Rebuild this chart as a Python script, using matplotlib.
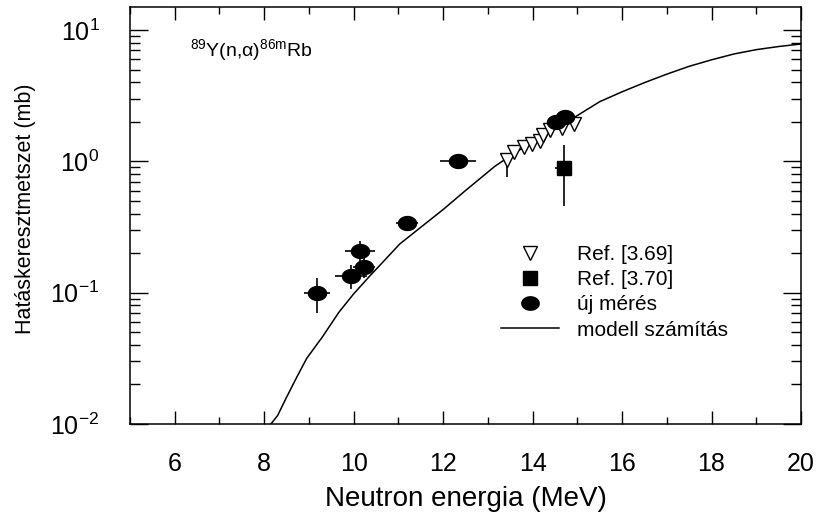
import numpy as np
import matplotlib
matplotlib.use("Agg")
import matplotlib.pyplot as plt
from matplotlib.path import Path
from matplotlib.lines import Line2D
from matplotlib.ticker import LogLocator, MultipleLocator, NullFormatter

plt.rcParams['font.family'] = ['Liberation Sans', 'DejaVu Sans']
plt.rcParams['mathtext.fontset'] = 'custom'
plt.rcParams['mathtext.rm'] = 'Liberation Sans'
plt.rcParams['mathtext.it'] = 'Liberation Sans'
plt.rcParams['mathtext.bf'] = 'Liberation Sans:bold'

# ---- data ----
# model calculation
model_E = [8.15, 8.3, 8.5, 8.75, 8.95, 9.3, 9.67, 10.0, 10.36, 10.7, 11.03, 11.5, 12.0,
           12.5, 13.16, 13.6, 14.2, 14.9, 15.5, 16.0, 16.5, 17.0, 17.5, 18.0, 18.5, 19.0,
           19.5, 20.0]
model_sigma = [0.0100, 0.0116, 0.0160, 0.0235, 0.0316, 0.046, 0.071, 0.098, 0.134, 0.178,
               0.235, 0.315, 0.43, 0.60, 0.92, 1.16, 1.55, 2.13, 2.85, 3.39, 3.98, 4.62,
               5.3, 5.94, 6.58, 7.1, 7.5, 7.84]

# Ref. [3.69]
ref69_E = [13.42, 13.58, 13.80, 13.98, 14.16, 14.23, 14.39, 14.65, 14.92]
ref69_sigma = [1.03, 1.17, 1.28, 1.35, 1.44, 1.60, 1.75, 1.81, 1.94]
ref69_err_lo = [0.27, 0.08, 0.08, 0.08, 0.09, 0.09, 0.10, 0.10, 0.10]
ref69_err_hi = [0.08, 0.08, 0.08, 0.08, 0.09, 0.09, 0.10, 0.10, 0.10]

# Ref. [3.70]
ref70_E = [14.70]
ref70_sigma = [0.885]
ref70_err_lo = [0.43]
ref70_err_hi = [0.46]
ref70_dE = [0.19]

# új mérés
new_E = [9.18, 9.94, 10.14, 10.23, 11.19, 12.33, 14.52, 14.72]
new_sigma = [0.100, 0.135, 0.208, 0.157, 0.339, 1.00, 2.00, 2.17]
new_dE = [0.29, 0.35, 0.33, 0.25, 0.25, 0.40, 0.15, 0.15]
new_dsigma = [0.03, 0.028, 0.04, 0.027, 0.02, 0.1, 0.1, 0.1]

x_ticks = [6, 8, 10, 12, 14, 16, 18, 20]

# ---- figure ----
W, H = 820, 516
fig = plt.figure(figsize=(W / 100, H / 100), dpi=100)
ax = fig.add_axes([130 / W, 1 - 424 / H, 671 / W, 417 / H])

ax.set_yscale('log')
ax.set_xlim(5, 20)
ax.set_ylim(0.01, 15)

# ellipse marker
th = np.linspace(0, 2 * np.pi, 61)
ell = Path(np.column_stack([1.3 * np.cos(th), np.sin(th)]))

ax.plot(model_E, model_sigma, color='black', lw=1.1, zorder=2)

ax.errorbar(ref69_E, ref69_sigma, yerr=[ref69_err_lo, ref69_err_hi], fmt='v',
            ms=10, mfc='white', mec='black', mew=1.0, ecolor='black', elinewidth=1.2,
            capsize=0, zorder=3)
ax.errorbar(ref70_E, ref70_sigma, yerr=[ref70_err_lo, ref70_err_hi], xerr=ref70_dE,
            fmt='s', ms=10, mfc='black', mec='black', ecolor='black', elinewidth=1.2,
            capsize=0, zorder=3)
ax.errorbar(new_E, new_sigma, yerr=new_dsigma, xerr=new_dE, fmt='none',
            ecolor='black', elinewidth=1.2, capsize=0, zorder=4)
ax.plot(new_E, new_sigma, ls='none', marker=ell, ms=13, mfc='black', mec='black',
        zorder=5)

# ticks
ax.set_xticks(x_ticks)
ax.xaxis.set_minor_locator(MultipleLocator(1))
ax.yaxis.set_major_locator(LogLocator(base=10, numticks=10))
ax.yaxis.set_minor_locator(LogLocator(base=10, subs=np.arange(2, 10), numticks=20))
ax.yaxis.set_minor_formatter(NullFormatter())
ax.tick_params(axis='x', which='major', direction='in', length=9.5, width=1.0,
               top=True, bottom=True, labelsize=18, pad=20)
ax.tick_params(axis='x', which='minor', direction='in', length=5, width=1.0,
               top=True, bottom=True)
ax.tick_params(axis='y', which='major', direction='in', length=13, width=1.0,
               left=True, right=True, labelsize=18, pad=22)
ax.tick_params(axis='y', which='minor', direction='in', length=7, width=1.0,
               left=True, right=True)
for s in ax.spines.values():
    s.set_linewidth(1.1)

ax.set_xlabel('Neutron energia (MeV)', fontsize=20)
ax.xaxis.set_label_coords(0.5, -(486 - 424) / 417)
ax.set_ylabel('Hatáskeresztmetszet (mb)', fontsize=15.5)
ax.yaxis.set_label_coords((36 - 130) / 671, 0.515)

ax.text((190 - 130) / 671, 1 - (50 - 7) / 417,
        r'$^{89}$Y(n,$\alpha$)$^{86m}$Rb', transform=ax.transAxes,
        fontsize=14, va='center', ha='left')

handles = [
    Line2D([], [], ls='none', marker='v', ms=10, mfc='white', mec='black', mew=1.0),
    Line2D([], [], ls='none', marker='s', ms=9.5, mfc='black', mec='black'),
    Line2D([], [], ls='none', marker=ell, ms=12.5, mfc='black', mec='black'),
    Line2D([], [], color='black', lw=1.1),
]
labels = ['Ref. [3.69]', 'Ref. [3.70]', 'új mérés', 'modell számítás']
fig.legend(handles, labels, loc='upper left', bbox_to_anchor=(501 / W, 1 - 245 / H),
           bbox_transform=fig.transFigure, frameon=False, fontsize=15,
           handlelength=2.8, handletextpad=0.85, labelspacing=0.3, borderpad=0,
           borderaxespad=0)

fig.savefig('out.png', dpi=100)
